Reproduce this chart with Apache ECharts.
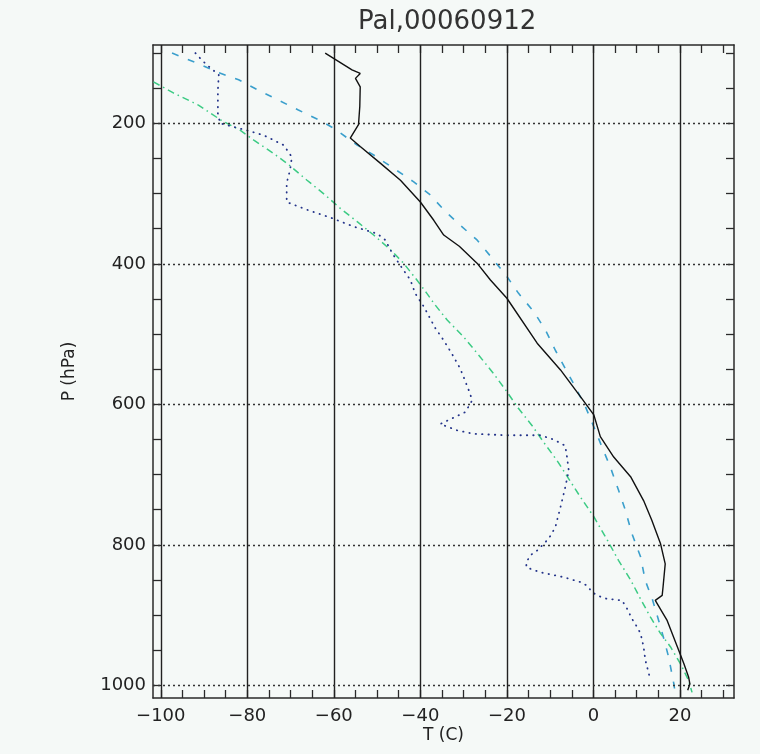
<!DOCTYPE html>
<html>
<head>
<meta charset="utf-8">
<title>Pal,00060912</title>
<script src="https://cdn.jsdelivr.net/npm/echarts@6/dist/echarts.min.js"></script>
<style>
  html, body { margin: 0; padding: 0; background: #f5f9f7; }
  #chart { width: 760px; height: 754px; }
</style>
</head>
<body>
<div id="chart"></div>
<script>
// 温度 (C) / 气压 (hPa) 廓线
var tempP = [100, 124, 129, 136, 148, 176, 202, 221, 233, 257, 281, 312, 338, 359, 375, 399, 423, 449, 513, 551, 589, 615, 646, 675, 703, 737, 765, 798, 827, 860, 872, 879, 907, 945, 969, 988, 998, 1007];
var tempT = [-62.0, -55.8, -53.9, -55.0, -53.9, -54.0, -54.3, -56.2, -53.9, -49.2, -44.6, -40.0, -36.9, -34.6, -31.0, -26.9, -23.8, -20.0, -13.0, -7.6, -3.0, 0.1, 1.6, 4.7, 8.6, 11.6, 13.5, 15.5, 16.6, 16.1, 15.9, 14.3, 17.0, 19.4, 20.9, 22.0, 22.3, 21.8];

// 露点
var dewP = [100, 110, 117, 131, 153, 186, 200, 210, 217, 231, 248, 266, 285, 312, 323, 335, 347, 357, 366, 385, 409, 423, 442, 461, 492, 509, 528, 549, 561, 580, 594, 611, 620, 628, 637, 642, 644, 644, 650, 659, 675, 694, 718, 746, 775, 791, 808, 815, 825, 832, 839, 846, 853, 858, 867, 872, 877, 879, 891, 905, 917, 926, 945, 964, 983, 993];
var dewT = [-92.0, -90.5, -89.3, -86.6, -86.8, -86.8, -86.3, -80.1, -76.2, -71.6, -69.7, -70.1, -70.9, -70.9, -66.2, -60.4, -55.4, -50.0, -48.1, -46.5, -43.9, -42.3, -41.2, -39.2, -36.5, -34.6, -32.7, -30.8, -30.0, -28.8, -28.0, -29.6, -32.7, -35.4, -31.5, -27.7, -20.0, -12.3, -9.2, -6.5, -6.1, -5.7, -6.5, -7.6, -8.8, -10.3, -13.0, -14.6, -15.5, -15.5, -12.3, -6.9, -3.0, -1.5, -0.3, 0.8, 3.2, 6.6, 7.8, 8.9, 10.1, 10.9, 11.6, 12.0, 12.8, 13.2];

// 虚线 (青)
var dashP = [100, 115, 127, 138, 153, 167, 181, 195, 207, 231, 245, 264, 283, 302, 323, 345, 366, 392, 418, 442, 468, 494, 523, 549, 575, 604, 632, 661, 689, 722, 751, 784, 817, 851, 877, 908, 934, 960, 998, 1007];
var dashT = [-97.4, -91.3, -87.0, -82.0, -77.4, -72.8, -68.2, -63.5, -60.0, -54.6, -50.8, -46.2, -41.6, -37.7, -34.6, -30.8, -26.9, -23.4, -20.0, -17.3, -13.8, -11.1, -8.8, -6.5, -4.2, -1.8, 0.1, 2.0, 3.9, 5.8, 7.4, 8.9, 10.9, 12.0, 13.6, 15.1, 16.3, 17.4, 18.6, 18.8];

// 点划线 (绿)
var dotDashP = [141, 157, 174, 195, 210, 224, 243, 259, 281, 302, 321, 340, 359, 380, 399, 423, 442, 456, 480, 504, 530, 556, 582, 606, 630, 654, 680, 706, 732, 760, 793, 822, 850, 877, 903, 926, 945, 969, 993, 1010];
var dotDashT = [-101.7, -97.0, -91.3, -86.2, -81.6, -78.5, -73.9, -70.4, -66.2, -62.0, -58.5, -54.6, -50.8, -46.9, -43.9, -40.8, -38.5, -36.9, -33.8, -30.0, -26.5, -23.1, -20.0, -17.3, -14.2, -11.5, -8.4, -5.7, -3.0, 0.1, 3.2, 5.8, 8.6, 10.9, 13.2, 15.5, 17.8, 20.1, 22.0, 22.8];

// 刻度
var tLabels = [-100, -80, -60, -40, -20, 0, 20];
var tTicks = [-100, -95, -90, -85, -80, -75, -70, -65, -60, -55, -50, -45, -40, -35, -30, -25, -20, -15, -10, -5, 0, 5, 10, 15, 20, 25, 30];
var pLabels = [200, 400, 600, 800, 1000];
var pTicks = [100, 150, 200, 250, 300, 350, 400, 450, 500, 550, 600, 650, 700, 750, 800, 850, 900, 950, 1000];
var tGrid = [-100, -80, -60, -40, -20, 0, 20];
var pGrid = [200, 400, 600, 800, 1000];

var T_MIN = -101.8, T_MAX = 32.5;
var P_MIN = 88.5, P_MAX = 1018;

function pairs(ts, ps) {
  return ts.map(function (t, i) { return [t, ps[i]]; });
}

function minusFmt(v) {
  return v < 0 ? '\u2212' + Math.abs(v) : String(v);
}

var frameColor = '#2a2a2a';
var labelFont = 'DejaVu Sans';

function xAx(pos, withLabels) {
  return {
    type: 'value',
    position: pos,
    min: T_MIN,
    max: T_MAX,
    name: withLabels ? 'T (C)' : '',
    nameLocation: 'middle',
    nameGap: 29,
    nameMoveOverlap: false,
    nameTextStyle: { color: '#222', fontSize: 17, fontFamily: labelFont },
    axisLine: { show: true, onZero: false, lineStyle: { color: frameColor, width: 1.5 } },
    axisTick: { show: true, inside: true, length: 8, customValues: tTicks, lineStyle: { color: frameColor, width: 1.3 } },
    axisLabel: {
      show: withLabels, customValues: tLabels, formatter: minusFmt,
      color: '#222', fontSize: 18, fontFamily: labelFont, margin: 9
    },
    splitLine: { show: false }
  };
}

function yAx(pos, withLabels) {
  return {
    type: 'value',
    position: pos,
    inverse: true,
    min: P_MIN,
    max: P_MAX,
    name: withLabels ? 'P (hPa)' : '',
    nameLocation: 'middle',
    nameGap: 75,
    nameMoveOverlap: false,
    nameTextStyle: { color: '#222', fontSize: 17, fontFamily: labelFont },
    axisLine: { show: true, onZero: false, lineStyle: { color: frameColor, width: 1.5 } },
    axisTick: { show: true, inside: true, length: 8, customValues: pTicks, lineStyle: { color: frameColor, width: 1.3 } },
    axisLabel: {
      show: withLabels, customValues: pLabels, formatter: minusFmt,
      color: '#222', fontSize: 18, fontFamily: labelFont, margin: 7
    },
    splitLine: { show: false }
  };
}

var gridLines = tGrid.map(function (t) {
  return { xAxis: t, lineStyle: { type: 'solid', color: '#222', width: 1.4 } };
}).concat(pGrid.map(function (p) {
  return { yAxis: p, lineStyle: { type: [2, 3], color: '#333', width: 1.3 } };
}));

var chart = echarts.init(document.getElementById('chart'), null, { renderer: 'canvas' });

chart.setOption({
  backgroundColor: '#f5f9f7',
  animation: false,
  title: {
    text: 'Pal,00060912',
    left: 353,
    top: 4,
    textStyle: { color: '#333', fontSize: 26, fontWeight: 'normal', fontFamily: labelFont }
  },
  grid: { left: 153, right: 26, top: 45, bottom: 56 },
  xAxis: [xAx('bottom', true), xAx('top', false)],
  yAxis: [yAx('left', true), yAx('right', false)],
  series: [
    {
      // 网格线
      name: 'grid',
      type: 'line',
      data: [],
      silent: true,
      z: 1,
      markLine: {
        silent: true,
        symbol: ['none', 'none'],
        label: { show: false },
        emphasis: { disabled: true },
        data: gridLines
      }
    },
    {
      name: 'T',
      type: 'line',
      data: pairs(tempT, tempP),
      showSymbol: false,
      symbol: 'none',
      z: 5,
      lineStyle: { color: '#111', width: 1.4 }
    },
    {
      name: 'Td',
      type: 'line',
      data: pairs(dewT, dewP),
      showSymbol: false,
      symbol: 'none',
      z: 4,
      lineStyle: { color: '#24348a', width: 1.8, type: [0.4, 6], cap: 'round' }
    },
    {
      name: 'dash',
      type: 'line',
      data: pairs(dashT, dashP),
      showSymbol: false,
      symbol: 'none',
      z: 3,
      lineStyle: { color: '#3a9fcc', width: 1.6, type: [7, 10] }
    },
    {
      name: 'dashdot',
      type: 'line',
      data: pairs(dotDashT, dotDashP),
      showSymbol: false,
      symbol: 'none',
      z: 3,
      lineStyle: { color: '#3ccb84', width: 1.5, type: [7, 4, 1.5, 4] }
    }
  ]
});
</script>
</body>
</html>
